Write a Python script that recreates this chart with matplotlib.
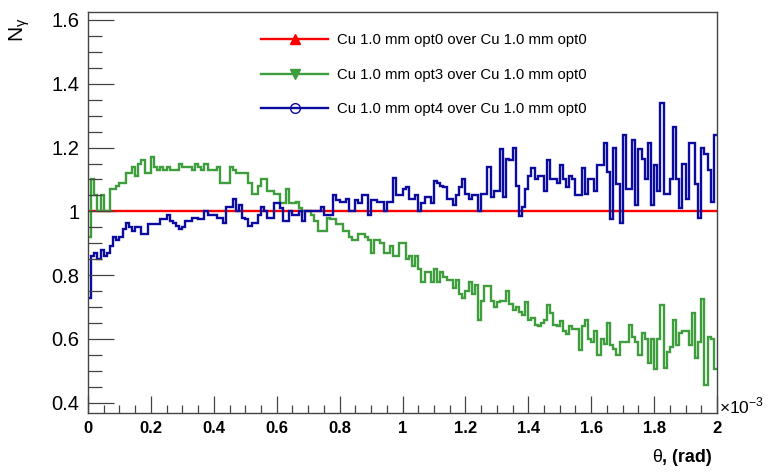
import numpy as np
import matplotlib
matplotlib.use("Agg")
import matplotlib.pyplot as plt
from matplotlib.lines import Line2D
from matplotlib.ticker import MultipleLocator, FuncFormatter

plt.rcParams['font.family'] = ['Liberation Sans', 'DejaVu Sans']

# 200 bins, theta from 0 to 2e-3 rad
theta_min = 0.0
theta_max = 2e-3
n_bins = 200

ratio_opt0 = [1.0] * n_bins

ratio_opt3 = [
    0.92, 1.10, 1.05, 1.00, 1.05, 1.00, 1.00, 1.07, 1.07, 1.08,
    1.09, 1.09, 1.12, 1.12, 1.14, 1.11, 1.15, 1.16, 1.12, 1.12,
    1.17, 1.14, 1.13, 1.14, 1.13, 1.14, 1.13, 1.13, 1.13, 1.15,
    1.14, 1.14, 1.14, 1.13, 1.15, 1.14, 1.13, 1.15, 1.13, 1.13,
    1.13, 1.14, 1.09, 1.09, 1.09, 1.14, 1.13, 1.12, 1.12, 1.12,
    1.12, 1.09, 1.055, 1.055, 1.08, 1.10, 1.10, 1.065, 1.065, 1.055,
    1.055, 1.025, 1.025, 1.07, 1.025, 1.025, 1.03, 1.01, 1.00, 1.00,
    1.00, 0.99, 0.97, 0.94, 0.94, 0.94, 0.98, 0.975, 0.975, 0.96,
    0.96, 0.94, 0.94, 0.92, 0.91, 0.91, 0.93, 0.93, 0.92, 0.91,
    0.87, 0.91, 0.91, 0.90, 0.87, 0.87, 0.89, 0.86, 0.86, 0.90,
    0.90, 0.85, 0.86, 0.83, 0.86, 0.82, 0.78, 0.81, 0.81, 0.78,
    0.82, 0.78, 0.81, 0.795, 0.785, 0.785, 0.76, 0.785, 0.74, 0.73,
    0.75, 0.78, 0.74, 0.77, 0.66, 0.72, 0.765, 0.765, 0.72, 0.70,
    0.715, 0.72, 0.72, 0.75, 0.71, 0.69, 0.70, 0.685, 0.675, 0.715,
    0.66, 0.665, 0.645, 0.64, 0.65, 0.66, 0.705, 0.68, 0.645, 0.64,
    0.655, 0.625, 0.615, 0.64, 0.63, 0.63, 0.565, 0.64, 0.66, 0.60,
    0.59, 0.625, 0.55, 0.60, 0.585, 0.65, 0.58, 0.57, 0.55, 0.59,
    0.59, 0.59, 0.645, 0.605, 0.59, 0.55, 0.62, 0.60, 0.525, 0.60,
    0.505, 0.60, 0.705, 0.51, 0.56, 0.575, 0.66, 0.58, 0.62, 0.625,
    0.625, 0.58, 0.68, 0.54, 0.59, 0.725, 0.455, 0.605, 0.60, 0.505,
]

ratio_opt4 = [
    0.73, 0.86, 0.87, 0.85, 0.88, 0.86, 0.87, 0.89, 0.92, 0.91,
    0.92, 0.945, 0.965, 0.95, 0.94, 0.95, 0.95, 0.93, 0.93, 0.96,
    0.96, 0.96, 0.96, 0.975, 0.975, 0.99, 0.97, 0.965, 0.955, 0.945,
    0.95, 0.97, 0.97, 0.98, 0.98, 0.975, 0.975, 1.00, 0.99, 0.99,
    0.99, 0.98, 0.98, 0.965, 1.015, 1.015, 1.04, 1.00, 1.02, 0.98,
    0.975, 0.955, 0.965, 0.965, 0.99, 1.015, 1.00, 0.98, 0.98, 1.025,
    1.025, 1.01, 0.97, 0.97, 1.00, 0.99, 0.99, 1.00, 0.97, 1.00,
    1.00, 1.00, 1.00, 1.00, 1.015, 0.99, 0.99, 0.99, 1.05, 1.035,
    1.03, 1.03, 1.04, 1.00, 1.00, 1.035, 1.025, 1.05, 1.05, 0.99,
    1.035, 1.035, 1.03, 1.03, 1.00, 1.03, 1.03, 1.105, 1.05, 1.05,
    1.07, 1.075, 1.04, 1.04, 1.05, 1.00, 1.025, 1.045, 1.045, 1.025,
    1.095, 1.09, 1.08, 1.075, 1.04, 1.04, 1.02, 1.05, 1.075, 1.10,
    1.055, 1.04, 1.05, 1.05, 1.00, 1.055, 1.055, 1.14, 1.045, 1.065,
    1.065, 1.195, 1.045, 1.165, 1.16, 1.20, 1.08, 0.985, 1.015, 1.07,
    1.11, 1.135, 1.10, 1.11, 1.11, 1.065, 1.16, 1.10, 1.10, 1.09,
    1.145, 1.10, 1.075, 1.11, 1.10, 1.05, 1.05, 1.135, 1.055, 1.10,
    1.10, 1.065, 1.145, 1.145, 1.215, 1.125, 0.975, 1.20, 1.085, 0.965,
    1.24, 1.07, 1.07, 1.225, 1.02, 1.195, 1.165, 1.10, 1.215, 1.02,
    1.145, 1.065, 1.34, 1.055, 1.055, 1.10, 1.265, 1.10, 1.01, 1.15,
    1.04, 1.215, 1.215, 1.085, 0.98, 1.20, 1.18, 1.13, 1.03, 1.24,
]

labels = [
    "Cu 1.0 mm opt0 over Cu 1.0 mm opt0",
    "Cu 1.0 mm opt3 over Cu 1.0 mm opt0",
    "Cu 1.0 mm opt4 over Cu 1.0 mm opt0",
]

red = "#ff0000"
green = "#3e9e3e"
blue = "#0b0ba0"

edges = np.linspace(theta_min, theta_max, n_bins + 1)

fig = plt.figure(figsize=(7.7, 4.73), dpi=100)
ax = fig.add_axes([88 / 770, 1 - 413 / 473, (717 - 88) / 770, (413 - 12) / 473])

ax.stairs(ratio_opt0, edges, baseline=None, color=red, lw=1.7)
ax.stairs(ratio_opt3, edges, baseline=None, color=green, lw=1.7)
ax.stairs(ratio_opt4, edges, baseline=None, color=blue, lw=1.7)

ax.set_xlim(theta_min, theta_max)
ax.set_ylim(0.368, 1.625)

ax.xaxis.set_major_locator(MultipleLocator(0.2e-3))
ax.xaxis.set_minor_locator(MultipleLocator(0.05e-3))
ax.yaxis.set_major_locator(MultipleLocator(0.2))
ax.yaxis.set_minor_locator(MultipleLocator(0.05))
ax.xaxis.set_major_formatter(FuncFormatter(lambda v, p: f"{v * 1e3:g}"))
ax.yaxis.set_major_formatter(FuncFormatter(lambda v, p: f"{v:g}"))

ax.tick_params(which="both", direction="in", top=False, right=False, width=0.9, color="#444444")
ax.tick_params(axis="x", which="major", length=12)
ax.tick_params(axis="x", which="minor", length=6)
ax.tick_params(axis="y", which="major", length=19)
ax.tick_params(axis="y", which="minor", length=10)
ax.tick_params(axis="y", labelsize=14.5, pad=6)
ax.tick_params(axis="x", labelsize=12, pad=6)
for t in ax.get_xticklabels():
    t.set_fontweight("bold")
for sp in ax.spines.values():
    sp.set_linewidth(1.0)
    sp.set_color("#444444")

# x title: theta in normal weight, the rest bold
rad = fig.text(712 / 770, 1 - 457 / 473, ", (rad)", ha="right", va="center",
               fontsize=13, fontweight="bold")
ax.annotate("θ", xy=(0, 0.5), xycoords=rad, ha="right", va="center", fontsize=13)

fig.text(20 / 770, 1 - 30 / 473, "N$_{\\mathregular{γ}}$", ha="center", va="center",
         fontsize=15, rotation=90)
fig.text(719 / 770, 1 - 406 / 473, "×10$^{\\mathregular{-3}}$", ha="left", va="center",
         fontsize=12.5)

handles = [
    Line2D([], [], color=red, lw=1.7, marker="^", markersize=7, markerfacecolor=red, markeredgecolor=red),
    Line2D([], [], color=green, lw=1.7, marker="v", markersize=7, markerfacecolor=green, markeredgecolor=green),
    Line2D([], [], color=blue, lw=1.7, marker="o", markersize=7, markerfacecolor="none", markeredgecolor=blue),
]
fig.legend(handles, labels, loc="upper left", bbox_to_anchor=(248 / 770, 1 - 20 / 473),
           frameon=False, fontsize=10.7, handlelength=4.5, handletextpad=0.6,
           labelspacing=1.38)

fig.savefig("out.png", dpi=100)
